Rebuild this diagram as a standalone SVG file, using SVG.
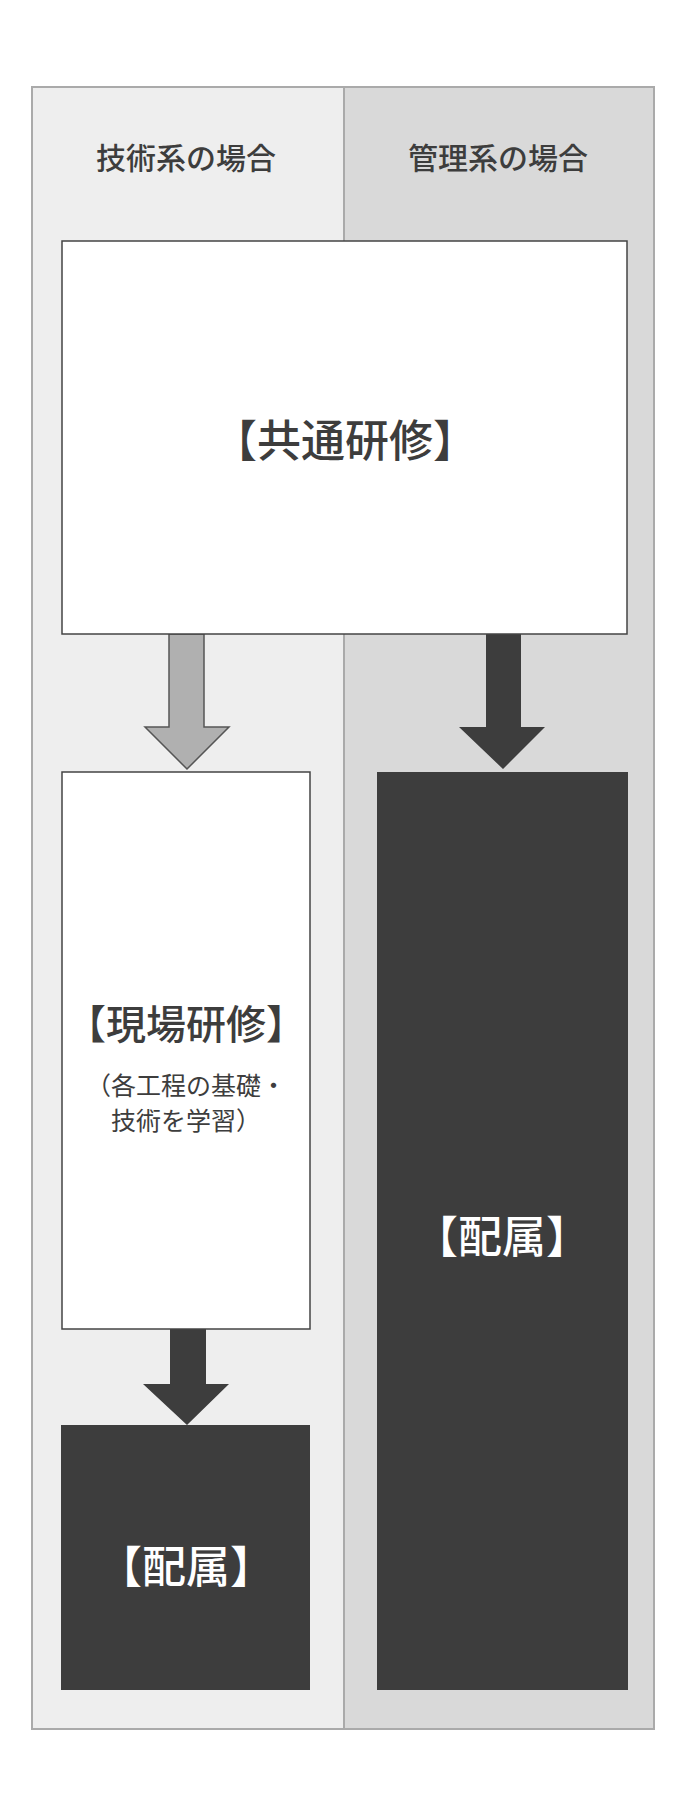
<svg xmlns="http://www.w3.org/2000/svg" width="686" height="1812" viewBox="0 0 686 1812">
<style>
text{font-family:"Noto Sans CJK JP","Noto Sans CJK SC",sans-serif;text-anchor:middle;dominant-baseline:central}
.h{font-size:30px;font-weight:500;fill:#3d3d3d}
.t{font-size:44px;font-weight:500;fill:#3d3d3d}
.w{font-size:44px;font-weight:500;fill:#fff}
.s{font-size:25px;fill:#3d3d3d}
.dark{fill:#3d3d3d}
</style>
<rect width="686" height="1812" fill="#fff"/>
<g id="columns">
<rect x="32" y="87" width="312" height="1642" fill="#eeeeee"/>
<rect x="344" y="87" width="310" height="1642" fill="#d9d9d9"/>
<line x1="344" y1="87" x2="344" y2="1729" stroke="#aaa" stroke-width="2"/>
<rect x="32" y="87" width="622" height="1642" fill="none" stroke="#aaa" stroke-width="2"/>
<text class="h" x="186" y="156">技術系の場合</text>
<text class="h" x="498" y="156">管理系の場合</text>
</g>
<g id="connectors">
<path d="M169,634 H204 V727 H229 L187,769 L145,727 H169 Z" fill="#b0b0b0" stroke="#555" stroke-width="1.5"/>
<path d="M486,634 H521 V727 H545 L503,769 L459,727 H486 Z" class="dark"/>
<path d="M170,1329 H206 V1384 H229 L187,1425 L143,1384 H170 Z" class="dark"/>
</g>
<g id="common">
<rect x="62" y="241" width="565" height="393" fill="#fff" stroke="#444" stroke-width="1.5"/>
<text class="t" x="345" y="438">【共通研修】</text>
</g>
<g id="genba">
<rect x="62" y="772" width="248" height="557" fill="#fff" stroke="#444" stroke-width="1.5"/>
<text class="t" x="186" y="1022" style="font-size:40px">【現場研修】</text>
<text class="s" x="186" y="1084">（各工程の基礎・</text>
<text class="s" x="186" y="1119">技術を学習）</text>
</g>
<g id="haizoku1">
<rect x="61" y="1425" width="249" height="265" class="dark"/>
<text class="w" x="186" y="1564">【配属】</text>
</g>
<g id="haizoku2">
<rect x="377" y="772" width="251" height="918" class="dark"/>
<text class="w" x="502" y="1234">【配属】</text>
</g>
</svg>
